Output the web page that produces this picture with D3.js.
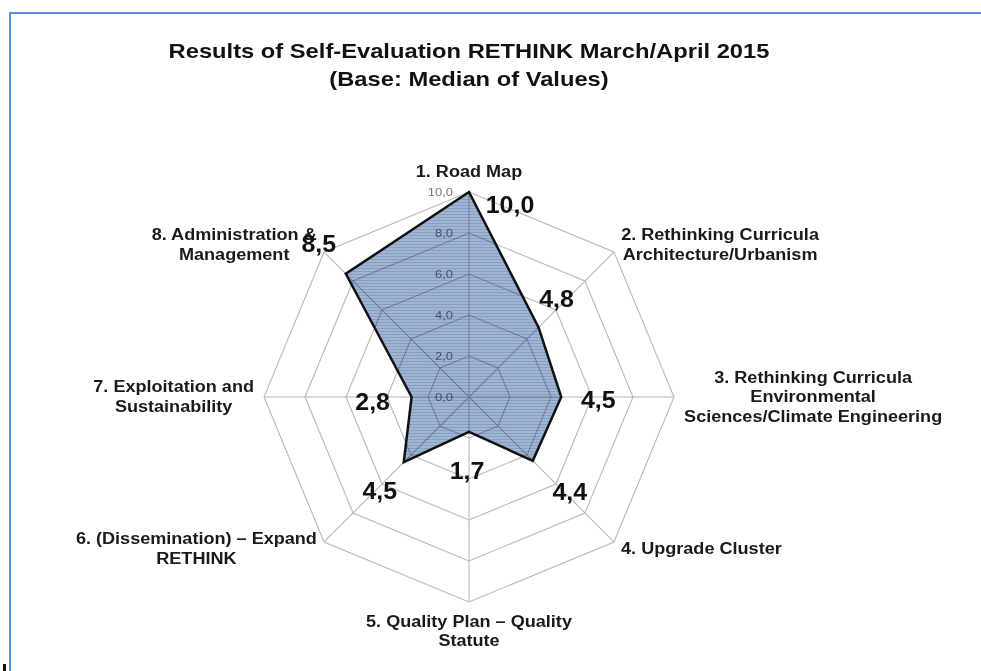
<!DOCTYPE html>
<html>
<head>
<meta charset="utf-8">
<script src="https://cdn.jsdelivr.net/npm/d3@7"></script>
<style>
  body { margin: 0; background: #fff; }
  text { font-family: "Liberation Sans", Arial, sans-serif; }
</style>
</head>
<body>
<div id="canvas"></div>
<script>
const titleLines = [
  "Results of Self-Evaluation RETHINK March/April 2015",
  "(Base: Median of Values)"
];
const categories = [
  ["1. Road Map"],
  ["2. Rethinking Curricula", "Architecture/Urbanism"],
  ["3. Rethinking Curricula", "Environmental", "Sciences/Climate Engineering"],
  ["4. Upgrade Cluster"],
  ["5. Quality Plan \u2013 Quality", "Statute"],
  ["6. (Dissemination) \u2013 Expand", "RETHINK"],
  ["7. Exploitation and", "Sustainability"],
  ["8. Administration &", "Management"]
];
const values = [10.0, 4.8, 4.5, 4.4, 1.7, 4.5, 2.8, 8.5];
const ticks = [0, 2, 4, 6, 8, 10];

// nudges for the value labels, relative to their point
const labelNudge = [[41, 13], [18, -29], [37, 3], [37, 31], [-2, 39], [-24, 28], [-39, 5], [-27, -30]];

const width = 981;
const height = 671;
const cx = 469, cy = 397;
const sx = 1.13; // source text looks stretched horizontally
const fmt = v => d3.format(".1f")(v).replace(".", ",");

const svg = d3.select("#canvas")
  .append("svg")
  .attr("width", width)
  .attr("height", height);

// frame
svg.append("path")
  .attr("d", `M10,${height} L10,13 L${width},13`)
  .attr("fill", "none")
  .attr("stroke", "#5f8fd4")
  .attr("stroke-width", 2);
svg.append("rect").attr("x", 3).attr("y", 664).attr("width", 3).attr("height", 7).attr("fill", "#111");

const addText = (parent, x, y, txt, s = sx) => {
  const g = parent.append("g").attr("transform", `translate(${x},${y}) scale(${s},1)`);
  return g.append("text").text(txt);
};

// title
titleLines.forEach((t, i) => {
  addText(svg, cx, 58 + i * 28, t)
    .attr("text-anchor", "middle")
    .attr("font-size", 21)
    .attr("font-weight", "bold")
    .attr("fill", "#111");
});

const r = d3.scaleLinear().domain([0, 10]).range([0, 205]);
const angle = d3.scaleLinear().domain([0, categories.length]).range([0, 2 * Math.PI]);
const px = (i, v) => cx + r(v) * Math.sin(angle(i));
const py = (i, v) => cy - r(v) * Math.cos(angle(i));

// hatch pattern for the filled area
const defs = svg.append("defs");
const pat = defs.append("pattern")
  .attr("id", "hatch")
  .attr("patternUnits", "userSpaceOnUse")
  .attr("width", 6)
  .attr("height", 3);
pat.append("rect").attr("width", 6).attr("height", 3).attr("fill", "#a0b5d4");
pat.append("rect").attr("width", 6).attr("height", 1).attr("fill", "#889fc2");

const radarLine = d3.lineRadial()
  .angle((d, i) => angle(i))
  .radius(d => r(d))
  .curve(d3.curveLinearClosed);

const g = svg.append("g").attr("transform", `translate(${cx},${cy})`);

g.append("path")
  .datum(values)
  .attr("d", radarLine)
  .attr("fill", "url(#hatch)");

// grid on top, multiplied so it darkens inside the fill
const grid = svg.append("g").style("mix-blend-mode", "multiply");
ticks.filter(t => t > 0).forEach(t => {
  grid.append("path")
    .datum(categories.map(() => t))
    .attr("transform", `translate(${cx},${cy})`)
    .attr("d", radarLine)
    .attr("fill", "none")
    .attr("stroke", "#b8b8b8")
    .attr("stroke-width", 1.1);
});
categories.forEach((c, i) => {
  grid.append("line")
    .attr("x1", cx).attr("y1", cy)
    .attr("x2", px(i, 10)).attr("y2", py(i, 10))
    .attr("stroke", "#b8b8b8")
    .attr("stroke-width", 1.1);
});

g.append("path")
  .datum(values)
  .attr("d", radarLine)
  .attr("fill", "none")
  .attr("stroke", "#111")
  .attr("stroke-width", 2.5)
  .attr("stroke-linejoin", "miter");

// tick labels
const tickG = svg.append("g").style("mix-blend-mode", "multiply");
ticks.forEach(t => {
  addText(tickG, cx - 16, cy - r(t), fmt(t))
    .attr("text-anchor", "end")
    .attr("dominant-baseline", "central")
    .attr("font-size", 11.5)
    .attr("fill", "#777");
});

// category labels
const lh = 19.5;
categories.forEach((lines, i) => {
  const a = angle(i);
  const ax = px(i, 10) + 10 * Math.sin(a);
  const ay = py(i, 10) - 10 * Math.cos(a);
  const lg = svg.append("g");
  const t = lg.append("text")
    .attr("text-anchor", "middle")
    .attr("font-size", 16)
    .attr("font-weight", "bold")
    .attr("fill", "#1a1a1a");
  lines.forEach((ln, j) => {
    t.append("tspan")
      .attr("x", 0)
      .attr("y", (j - (lines.length - 1) / 2) * lh)
      .attr("dominant-baseline", "central")
      .text(ln);
  });
  const w = t.node().getBBox().width * sx;
  const h = lines.length * lh;
  let x = ax, y = ay;
  if (Math.sin(a) > 0.1) x = ax + w / 2;
  if (Math.sin(a) < -0.1) x = ax - w / 2;
  if (Math.cos(a) > 0.9) y = ay - h / 2;
  if (Math.cos(a) < -0.9) y = ay + h / 2;
  lg.attr("transform", `translate(${x},${y}) scale(${sx},1)`);
});

// value labels
values.forEach((v, i) => {
  addText(svg, px(i, v) + labelNudge[i][0], py(i, v) + labelNudge[i][1], fmt(v), 1.04)
    .attr("text-anchor", "middle")
    .attr("dominant-baseline", "central")
    .attr("font-size", 24)
    .attr("font-weight", "bold")
    .attr("fill", "#111");
});
</script>
</body>
</html>
